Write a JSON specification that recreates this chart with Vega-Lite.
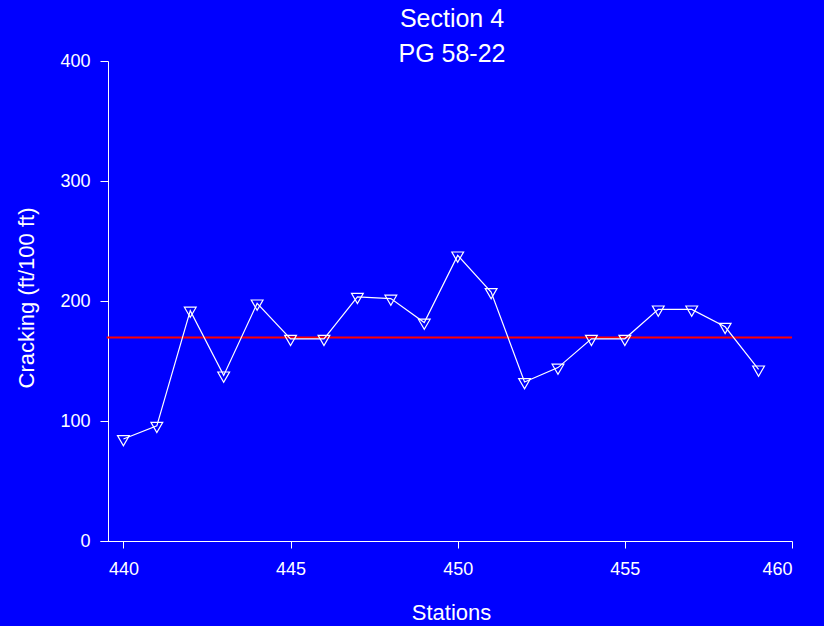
{
  "$schema": "https://vega.github.io/schema/vega-lite/v6.json",
  "width": 692,
  "height": 480,
  "autosize": {"type": "none"},
  "padding": {"left": 100, "top": 61, "right": 32, "bottom": 85},
  "background": "#0000FF",
  "title": {
    "text": ["Section 4", "PG 58-22"],
    "fontSize": 25,
    "lineHeight": 35,
    "color": "white",
    "font": "Liberation Sans",
    "fontWeight": "normal",
    "anchor": "middle",
    "baseline": "alphabetic",
    "offset": -35,
    "dx": 6
  },
  "config": {
    "view": {"stroke": null},
    "font": "Liberation Sans",
    "axis": {
      "domainColor": "white",
      "tickColor": "white",
      "labelColor": "white",
      "titleColor": "white",
      "domainWidth": 1,
      "tickWidth": 1,
      "grid": false,
      "labelFont": "Liberation Sans",
      "titleFont": "Liberation Sans",
      "labelFontSize": 18,
      "titleFontSize": 22,
      "titleFontWeight": "normal"
    }
  },
  "datasets": {
    "cracks": [
      {"station": 440, "cracking": 85},
      {"station": 441, "cracking": 96},
      {"station": 442, "cracking": 192},
      {"station": 443, "cracking": 138},
      {"station": 444, "cracking": 198},
      {"station": 445, "cracking": 168.5},
      {"station": 446, "cracking": 168.5},
      {"station": 447, "cracking": 203.5},
      {"station": 448, "cracking": 202},
      {"station": 449, "cracking": 182},
      {"station": 450, "cracking": 238},
      {"station": 451, "cracking": 207.5},
      {"station": 452, "cracking": 132.5},
      {"station": 453, "cracking": 144.5},
      {"station": 454, "cracking": 168.5},
      {"station": 455, "cracking": 168.5},
      {"station": 456, "cracking": 193},
      {"station": 457, "cracking": 193},
      {"station": 458, "cracking": 178.5},
      {"station": 459, "cracking": 143}
    ],
    "average": [
      {"mean": 169.5, "from": 439.5, "to": 460}
    ]
  },
  "layer": [
    {
      "data": {"name": "average"},
      "mark": {"type": "rule", "color": "#FF0000", "strokeWidth": 2},
      "encoding": {
        "x": {"field": "from", "type": "quantitative", "scale": {"domain": [439.3, 460], "nice": false, "zero": false},
          "axis": {"values": [440, 445, 450, 455, 460], "tickSize": 7, "labelPadding": 12, "title": "Stations", "titleX": 351, "titleY": 78, "titleBaseline": "alphabetic", "titleAlign": "center", "titleAnchor": null}},
        "x2": {"field": "to"},
        "y": {"field": "mean", "type": "quantitative", "scale": {"domain": [0, 400], "nice": false, "zero": false},
          "axis": {"values": [0, 100, 200, 300, 400], "offset": -8, "tickSize": 8, "labelPadding": 10, "title": "Cracking (ft/100 ft)", "titleX": -74.5, "titleY": 236.5, "titleBaseline": "alphabetic", "titleAlign": "center", "titleAngle": 270}}
      }
    },
    {
      "data": {"name": "cracks"},
      "mark": {"type": "line", "color": "white", "strokeWidth": 1.2},
      "encoding": {
        "x": {"field": "station", "type": "quantitative"},
        "y": {"field": "cracking", "type": "quantitative"}
      }
    },
    {
      "data": {"name": "cracks"},
      "mark": {"type": "point", "shape": "M-0.866,-0.5L0.866,-0.5L0,1Z", "filled": false, "stroke": "white", "strokeWidth": 1.2, "size": 185, "opacity": 1},
      "encoding": {
        "x": {"field": "station", "type": "quantitative"},
        "y": {"field": "cracking", "type": "quantitative"}
      }
    }
  ]
}
